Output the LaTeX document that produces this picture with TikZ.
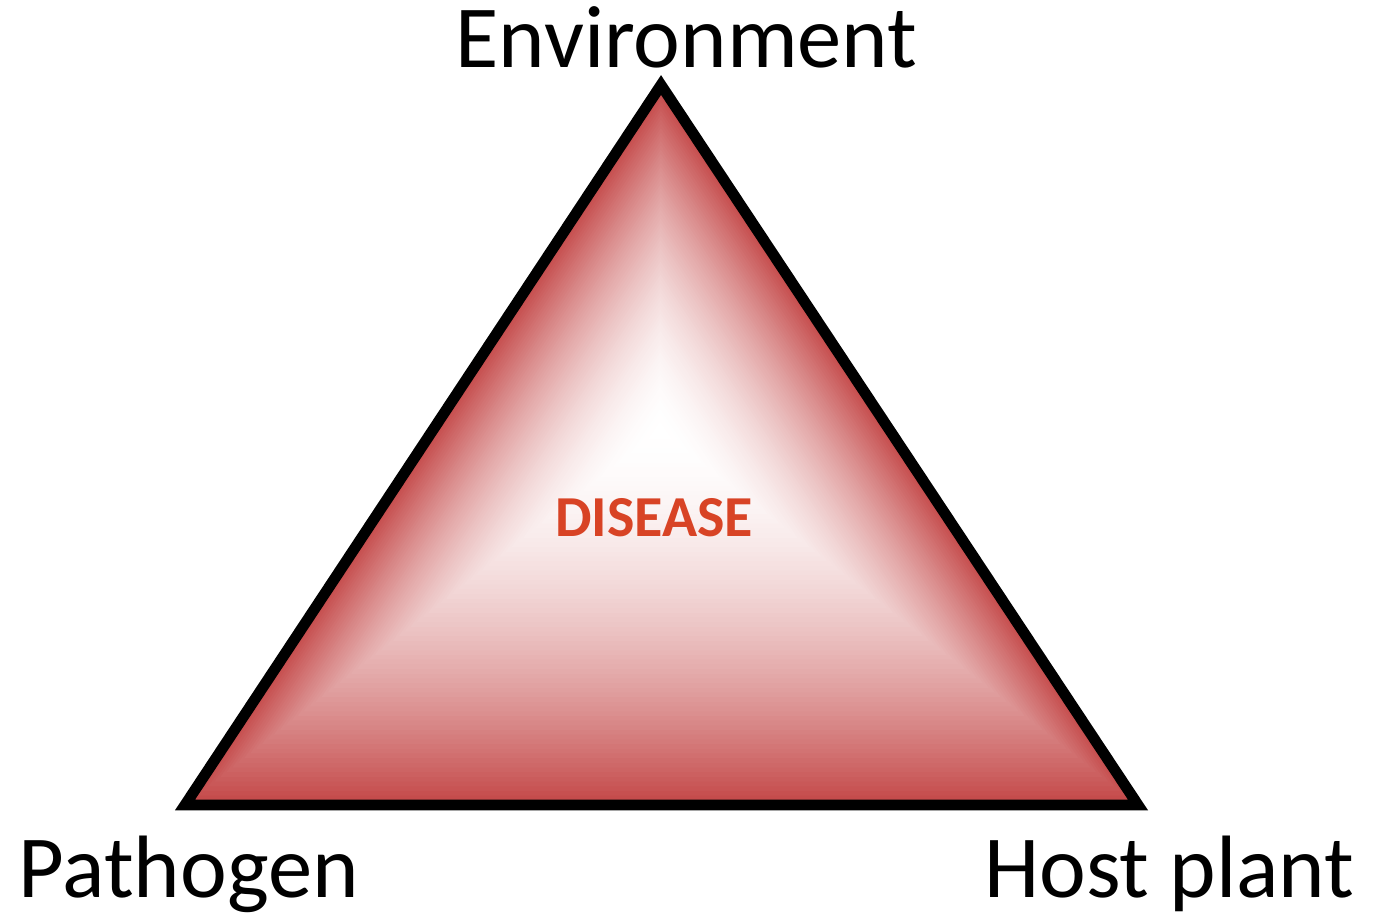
\documentclass[tikz,border=0pt]{standalone}
\usepackage{fontspec}
\setmainfont{Carlito}
\usepackage{tikz}
\usetikzlibrary{calc}

\definecolor{bevelred}{RGB}{196,72,72}
\definecolor{diseasetext}{RGB}{216,67,37}

\begin{document}
\begin{tikzpicture}[line join=miter,
    cornerlabel/.style={inner sep=0pt, font=\fontsize{25.2}{30}\selectfont},
    centerlabel/.style={inner sep=0pt, text=diseasetext, font=\fontsize{16.5}{20}\selectfont\bfseries}]
    \useasboundingbox (0,0) rectangle (13.86,9.15);

    % corners of the triangle and the light spot
    \coordinate (top) at (6.61,8.30);
    \coordinate (left) at (1.85,1.10);
    \coordinate (right) at (11.38,1.10);
    \coordinate (glow) at (6.60,4.85);

    % red at the edge, fading to white in the middle
    \foreach \i in {0,...,79}{
        \pgfmathsetmacro\f{1-\i/80}
        \pgfmathsetmacro\c{100*(\f)^1.8}
        \fill[bevelred!\c!white] ($(glow)!\f!(top)$) -- ($(glow)!\f!(left)$) -- ($(glow)!\f!(right)$) -- cycle;
    }

    % outline
    \draw[line width=3.1pt, black] (top) -- (left) -- (right) -- cycle;

    % labels
    \node[cornerlabel, anchor=base] (env) at (6.865,8.47) {Environment};
    \node[cornerlabel, anchor=base west] (path) at (0.18,0.18) {Pathogen};
    \node[cornerlabel, anchor=base east] (host) at (13.55,0.18) {Host plant};
    \node[centerlabel, anchor=base] (dis) at (6.54,3.78) {DISEASE};
\end{tikzpicture}
\end{document}
